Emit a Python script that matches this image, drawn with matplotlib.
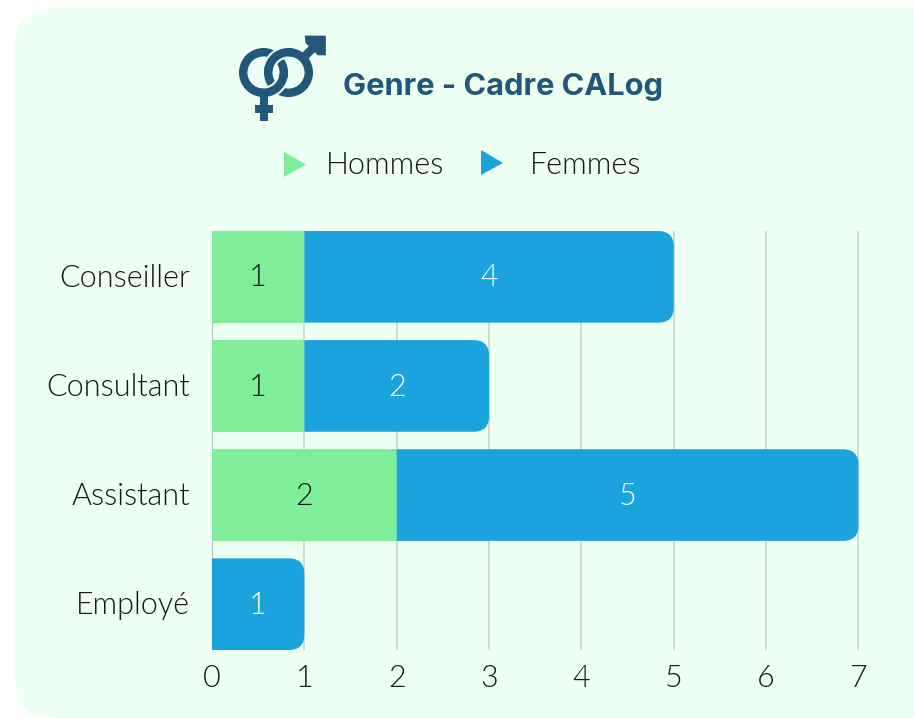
import matplotlib
matplotlib.use("Agg")
import matplotlib.pyplot as plt
from matplotlib.patches import FancyBboxPatch, PathPatch, Polygon, Circle, Arc, Rectangle
from matplotlib.path import Path
from matplotlib.transforms import ScaledTranslation

categories = ["Conseiller", "Consultant", "Assistant", "Employé"]
hommes = [1, 1, 2, 0]
femmes = [4, 2, 5, 1]
x_ticks = [0, 1, 2, 3, 4, 5, 6, 7]
title = "Genre - Cadre CALog"

GREEN = "#80ed99"
BLUE = "#1aa3dc"
NAVY = "#22577a"
BG = "#eefff4"
INK = "#161616"
W, H = 914, 718
BAR_H = 0.84
RADIUS = 0.17  # corner, in x units
FS = 22

plt.rcParams["font.family"] = ["Lato", "DejaVu Sans"]
plt.rcParams["font.weight"] = 300

fig = plt.figure(figsize=(W / 100, H / 100), dpi=100, facecolor="white")

# pixel overlay for panel, title, icon and legend
bg = fig.add_axes([0, 0, 1, 1], zorder=0)
bg.set_xlim(0, W); bg.set_ylim(H, 0); bg.axis("off")
bg.add_patch(FancyBboxPatch((15, 8), 960, 710, boxstyle="round,pad=0,rounding_size=40",
                            fc=BG, ec="none", clip_on=True))

ax = fig.add_axes([212 / W, 1 - 650 / H, 646.5 / W, (650 - 231) / H], zorder=1)
ax.set_facecolor("none")
ax.set_xlim(0, 7)
ax.set_ylim(3 + BAR_H / 2, -BAR_H / 2)
for s in ax.spines.values():
    s.set_visible(False)
ax.set_xticks(x_ticks)
ax.set_yticks(range(len(categories)))
ax.set_yticklabels(categories)
ax.tick_params(axis="both", length=0, labelsize=FS, colors=INK)
ax.tick_params(axis="y", pad=15.5)
ax.tick_params(axis="x", pad=10)
ax.xaxis.grid(True, color="#c2d2c7", lw=1.1)
ax.set_axisbelow(True)
ax.get_xgridlines()[0].set_color("#a4aea8")
# nudge category labels up a little
nudge = ScaledTranslation(0, 1.5 / 100, fig.dpi_scale_trans)
for lab in ax.get_yticklabels():
    lab.set_transform(lab.get_transform() + nudge)


def round_bar(ax, left, y, width, color):
    # bar with rounded right corners, radius scaled so corners stay circular
    rx = min(RADIUS, width)
    ry = rx * (646 / 7) / (419 / (3 + BAR_H))
    t, b = y - BAR_H / 2, y + BAR_H / 2
    r = left + width
    verts = [(left, t), (r - rx, t), (r, t), (r, t + ry), (r, b - ry), (r, b), (r - rx, b),
             (left, b), (left, t)]
    codes = [Path.MOVETO, Path.LINETO, Path.CURVE3, Path.CURVE3, Path.LINETO, Path.CURVE3,
             Path.CURVE3, Path.LINETO, Path.CLOSEPOLY]
    ax.add_patch(PathPatch(Path(verts, codes), fc=color, ec="none", zorder=3))


for i, (h, f) in enumerate(zip(hommes, femmes)):
    if h:
        ax.barh(i, h, height=BAR_H, color=GREEN, zorder=3)
        ax.text(h / 2, i + 0.01, str(h), ha="center", va="center", fontsize=FS, color=INK, zorder=4)
    round_bar(ax, h, i, f, BLUE)
    ax.text(h + f / 2, i + 0.01, str(f), ha="center", va="center", fontsize=FS, color="white", zorder=4)

# title
bg.text(343, 87, title, fontsize=22.2, fontweight="bold", family=["Inter", "DejaVu Sans"],
        color=NAVY, ha="left", va="center")

# legend
bg.add_patch(Polygon([(284, 152), (306, 164.5), (284, 177)], fc=GREEN, ec="none"))
bg.add_patch(Polygon([(481, 150), (503, 163), (481, 175)], fc=BLUE, ec="none"))
bg.text(326, 166, "Hommes", fontsize=FS, color=INK, ha="left", va="center")
bg.text(530, 166, "Femmes", fontsize=FS, color=INK, ha="left", va="center")

# icon: interlocked gender rings
LW = 6.1
lc, rc, rad = (263.5, 72.5), (288.5, 72.5), 20.3
bg.add_patch(Circle(rc, rad, fc="none", ec=NAVY, lw=LW))
bg.add_patch(Circle(lc, rad, fc="none", ec=NAVY, lw=LW))
# over/under gaps at the two crossings
bg.add_patch(Arc(rc, rad * 2, rad * 2, theta1=195, theta2=270, ec=BG, lw=LW + 3))
bg.add_patch(Arc(rc, rad * 2, rad * 2, theta1=185, theta2=280, ec=NAVY, lw=LW))
bg.add_patch(Arc(lc, rad * 2, rad * 2, theta1=15, theta2=90, ec=BG, lw=LW + 3))
bg.add_patch(Arc(lc, rad * 2, rad * 2, theta1=5, theta2=100, ec=NAVY, lw=LW))
# arrow and cross
bg.plot([303, 321], [58, 40], color=NAVY, lw=LW, solid_capstyle="butt")
bg.add_patch(Polygon([(305, 36), (325.5, 36), (325.5, 55), (318, 55), (306, 43)], fc=NAVY, ec=NAVY, lw=0.5, joinstyle="round"))
bg.add_patch(Rectangle((259.5, 95), 8, 26, fc=NAVY, ec="none"))
bg.add_patch(Rectangle((255, 105), 18, 8, fc=NAVY, ec="none"))

fig.savefig("out.png", dpi=100, facecolor="white")
